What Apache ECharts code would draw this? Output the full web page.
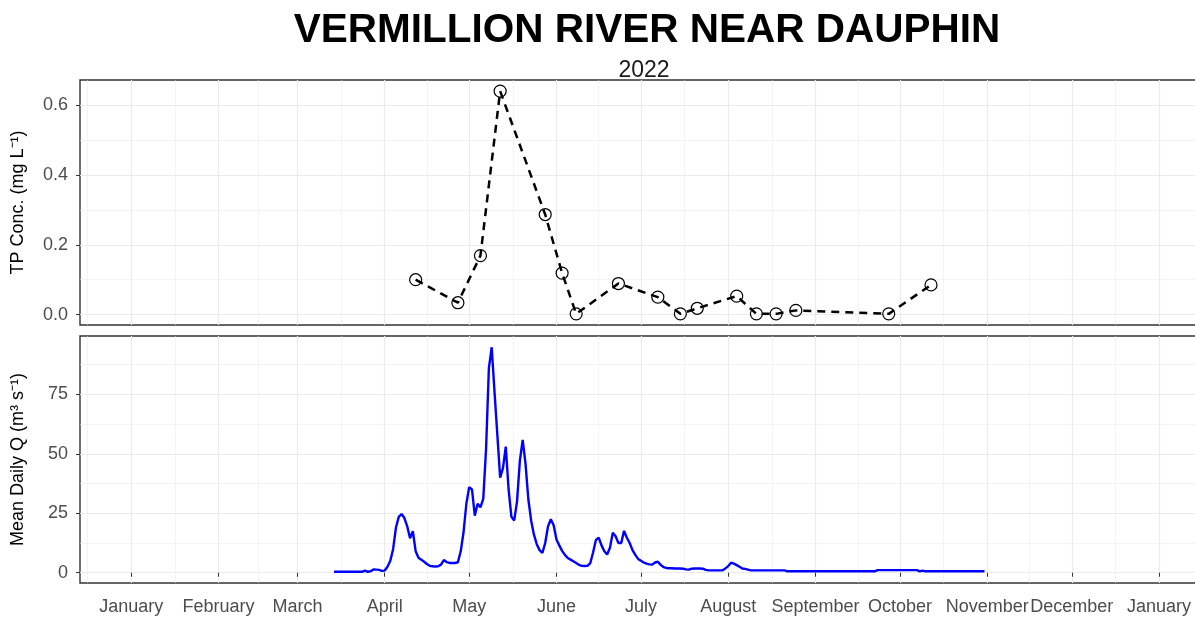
<!DOCTYPE html>
<html><head><meta charset="utf-8">
<script src="https://cdn.jsdelivr.net/npm/echarts@6/dist/echarts.min.js"></script>
<style>html,body{margin:0;padding:0;background:#fff}#c{width:1195px;height:618px}</style>
</head><body><div id="c"></div>
<script>
const titleText = 'VERMILLION RIVER NEAR DAUPHIN';
const subtitleText = '2022';
const tpAxisName = 'TP Conc. (mg L\u207B\u00B9)';
const flowAxisName = 'Mean Daily Q (m\u00B3 s\u207B\u00B9)';

// Total phosphorus samples
const tpDates = ['2022-04-12','2022-04-27','2022-05-05','2022-05-12','2022-05-28','2022-06-03','2022-06-08',
  '2022-06-23','2022-07-07','2022-07-15','2022-07-21','2022-08-04','2022-08-11','2022-08-18','2022-08-25',
  '2022-09-27','2022-10-12'];
const tpValues = [0.100,0.034,0.169,0.641,0.287,0.119,0.002,0.089,0.050,0.002,0.018,0.053,0.002,0.002,0.012,0.002,0.085];

// Mean daily discharge, one value per day starting at flowStart
const flowStart = '2022-03-14';
const flowMar = [0.4,0.4,0.4,0.4,0.4,0.4,0.4,0.4,0.4,0.4,0.4,0.9,0.4,0.6,1.4,1.3,1.2,0.8];
const flowApr = [0.9,2.5,5.0,10,19,23.5,24.7,23,19.5,14.5,17.5,9,6.3,5.5,4.6,3.7,2.9,2.7,2.6,2.7,3.4,5.3,4.5,4.1,4.1,4.1,4.4,9,17,29];
const flowMay = [36,35,24,29,27.5,31,52,86,94.8,76,58,40,44,53,35,23.5,22,30,47,55.8,46,31,22,16,12,9.5,8.3,12.5,19.5,22.5,20];
const flowJun = [14,11.5,9.2,7.5,6.2,5.5,4.8,4.1,3.3,2.9,2.8,2.9,4,8.5,13.8,14.7,11.5,9,7.7,10.5,16.8,15.3,12.5,12.5,17.6,14.7,12.5,9.5,7.5,5.8];
const flowJul = [5,4.3,3.8,3.5,3.4,4.3,4.6,3.3,2.4,2.0,1.9,1.9,1.8,1.8,1.8,1.7,1.4,1.3,1.7,1.8,1.8,1.8,1.7,1.2,1.0,1.0,1.0,1.0,1.0,1.0,1.8];
const flowAug = [2.8,4.2,3.8,3.2,2.5,1.8,1.6,1.3,1.0,1.0,1.0,1.0,1.0,1.0,1.0,1.0,1.0,1.0,1.0,1.0,1.0,0.6,0.6,0.6,0.6,0.6,0.6,0.6,0.6,0.6,0.6];
const flowSep = [0.6,0.6,0.6,0.6,0.6,0.6,0.6,0.6,0.6,0.6,0.6,0.6,0.6,0.6,0.6,0.6,0.6,0.6,0.6,0.6,0.6,0.6,1.1,1.1,1.1,1.1,1.1,1.1,1.1,1.1];
const flowOct = [1.1,1.1,1.1,1.1,1.1,1.1,1.1,0.6,0.9,0.6,0.6,0.6,0.6,0.6,0.6,0.6,0.6,0.6,0.6,0.6,0.6,0.6,0.6,0.6,0.6,0.6,0.6,0.6,0.6,0.6,0.6];

// Axis ticks
const monthTickDates = ['2022-01-01','2022-02-01','2022-03-01','2022-04-01','2022-05-01','2022-06-01','2022-07-01',
  '2022-08-01','2022-09-01','2022-10-01','2022-11-01','2022-12-01','2023-01-01'];
const monthLabels = ['January','February','March','April','May','June','July','August','September','October','November','December','January'];
const minorBoundDates = ['2021-12-01'].concat(monthTickDates, ['2023-02-01']);
const tpTicks = [0, 0.2, 0.4, 0.6];
const tpMinorTicks = [0.1, 0.3, 0.5];
const flowTicks = [0, 25, 50, 75];
const flowMinorTicks = [12.5, 37.5, 62.5, 87.5];
const xLimitDates = ['2022-01-01', '2022-12-31'];

function ts(s) { const p = s.split('-').map(Number); return new Date(p[0], p[1] - 1, p[2]).getTime(); }
function tsAdd(s, days) { const p = s.split('-').map(Number); return new Date(p[0], p[1] - 1, p[2] + days).getTime(); }

const flowValues = [].concat(flowMar, flowApr, flowMay, flowJun, flowJul, flowAug, flowSep, flowOct);
const flowData = flowValues.map((v, i) => [tsAdd(flowStart, i), v]);
const tpData = tpDates.map((d, i) => [ts(d), tpValues[i]]);

const monthTs = monthTickDates.map(ts);
const boundTs = minorBoundDates.map(ts);
const minorTs = [];
for (let i = 0; i < boundTs.length - 1; i++) minorTs.push((boundTs[i] + boundTs[i + 1]) / 2);

const xSpan = ts(xLimitDates[1]) - ts(xLimitDates[0]);
const xMin = ts(xLimitDates[0]) - 0.05 * xSpan;
const xMax = ts(xLimitDates[1]) + 0.05 * xSpan;

function padRange(vals) {
  const lo = Math.min(...vals), hi = Math.max(...vals);
  const p = 0.05 * (hi - lo);
  return [lo - p, hi + p];
}
const tpRange = padRange(tpValues);
const flowRange = padRange(flowValues);

const FONT = 'Liberation Sans, Arial, sans-serif';
const majorColor = '#ebebeb';
const labelStyle = { color: '#4d4d4d', fontSize: 18, fontFamily: FONT };
const gridLeft = 80, pxPerDay = 2.816;
const gridWidth = (xMax - xMin) / 86400000 * pxPerDay;
const gridRight = 1195 - gridLeft - gridWidth;

function xMajor(gridIndex, withLabels) {
  return {
    type: 'value', gridIndex, min: xMin, max: xMax, scale: true,
    axisLine: { show: false },
    axisTick: { show: withLabels, customValues: monthTs, length: 4, lineStyle: { color: '#333333', width: 1 } },
    axisLabel: withLabels ? Object.assign({ show: true, customValues: monthTs, margin: 15, hideOverlap: false,
      formatter: function (v) { const i = monthTs.indexOf(v); return i >= 0 ? monthLabels[i] : ''; } }, labelStyle) : { show: false },
    splitLine: { show: true, lineStyle: { color: majorColor, width: 1.1 } }
  };
}
function xMinor(gridIndex) {
  return {
    type: 'value', gridIndex, min: xMin, max: xMax, scale: true,
    axisLine: { show: false },
    axisTick: { show: false, customValues: minorTs },
    axisLabel: { show: false },
    splitLine: { show: true, lineStyle: { color: majorColor, width: 0.55 } }
  };
}
function yMajor(gridIndex, range, ticks, fmt, name) {
  return {
    type: 'value', gridIndex, min: range[0], max: range[1],
    name: name, nameLocation: 'middle', nameGap: 53,
    nameTextStyle: { color: '#000', fontSize: 18, fontFamily: FONT },
    axisLine: { show: false },
    axisTick: { show: true, customValues: ticks, length: 4, lineStyle: { color: '#333333', width: 1 } },
    axisLabel: Object.assign({ show: true, customValues: ticks, margin: 12, formatter: fmt }, labelStyle),
    splitLine: { show: true, lineStyle: { color: majorColor, width: 1.1 } }
  };
}
function yMinor(gridIndex, range, ticks) {
  return {
    type: 'value', gridIndex, min: range[0], max: range[1],
    axisLine: { show: false },
    axisTick: { show: false, customValues: ticks },
    axisLabel: { show: false },
    splitLine: { show: true, lineStyle: { color: majorColor, width: 0.55 } }
  };
}

const gridBase = { left: gridLeft, right: gridRight, show: true, borderColor: '#333333', borderWidth: 1.4,
  backgroundColor: 'transparent', containLabel: false, outerBoundsMode: 'none' };

const chart = echarts.init(document.getElementById('c'), null, { renderer: 'canvas' });
chart.setOption({
  animation: false,
  backgroundColor: '#ffffff',
  title: [
    { text: titleText, left: 642, top: 5, textAlign: 'center',
      textStyle: { fontSize: 40.5, fontWeight: 'bold', color: '#000', fontFamily: FONT } },
    { text: subtitleText, left: 639, top: 54, textAlign: 'center',
      textStyle: { fontSize: 23, fontWeight: 'normal', color: '#1a1a1a', fontFamily: FONT } }
  ],
  grid: [
    Object.assign({ top: 80, height: 245 }, gridBase),
    Object.assign({ top: 336, height: 247 }, gridBase)
  ],
  xAxis: [xMajor(0, false), xMinor(0), xMajor(1, true), xMinor(1)],
  yAxis: [
    yMajor(0, tpRange, tpTicks, v => v.toFixed(1), tpAxisName),
    yMinor(0, tpRange, tpMinorTicks),
    yMajor(1, flowRange, flowTicks, v => String(Math.round(v)), flowAxisName),
    yMinor(1, flowRange, flowMinorTicks)
  ],
  series: [
    { type: 'line', xAxisIndex: 0, yAxisIndex: 0, data: tpData, z: 5,
      lineStyle: { color: '#000', width: 2.5, type: [8, 6] },
      symbol: 'circle', symbolSize: 12,
      itemStyle: { color: 'rgba(255,255,255,0)', borderColor: '#000', borderWidth: 1.2 },
      emphasis: { disabled: true } },
    { type: 'line', xAxisIndex: 2, yAxisIndex: 2, data: flowData, z: 5,
      showSymbol: false, symbol: 'none',
      lineStyle: { color: '#0000ff', width: 2.4 },
      emphasis: { disabled: true } }
  ]
});
</script>
</body></html>
